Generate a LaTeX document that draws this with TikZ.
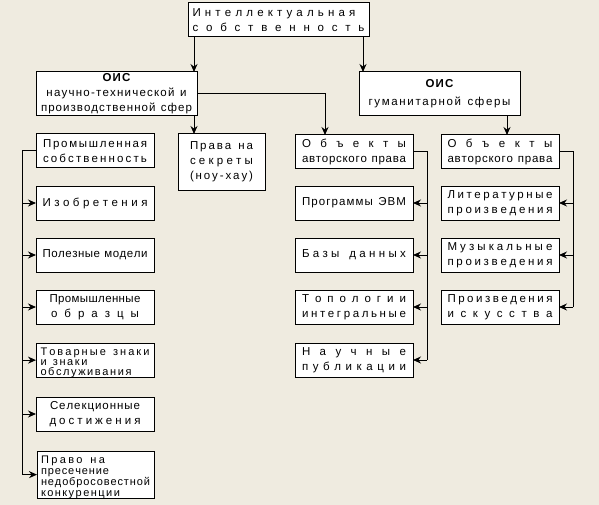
\documentclass[tikz,border=0pt]{standalone}
\usepackage{fontspec}
\setmainfont{Liberation Sans}
\usetikzlibrary{arrows.meta}
\definecolor{paper}{RGB}{239,235,224}
\makeatletter
\newcommand\spreadline[2]{\makebox[#1pt][s]{\@tfor\sp@letter:=#2\do{\sp@letter\hfil}\unskip}}
\makeatother
\newcommand\toppad{\rule{0pt}{12pt}}
\begin{document}
\begin{tikzpicture}[
            x=1pt, y=-1pt,
            line width=1pt,
            box/.style={draw, fill=white, anchor=north west, inner sep=0pt, outer sep=0pt,
                    align=center, font=\fontsize{11.5}{15}\selectfont},
            small/.style={box, minimum width=118, minimum height=34},
            arr/.style={-{Stealth[length=8pt,width=7pt]}}
        ]

        \fill[paper] (0,0) rectangle (599,505);
        \useasboundingbox (0,0) rectangle (599,505);

        \node[box, minimum width=181, minimum height=34, align=left] (top) at (188,3)
            {\spreadline{163}{Интеллектуальная}\\\spreadline{172}{собственность}};
        \node[box, minimum width=161, minimum height=44] (lois) at (36,72)
            {{\bfseries\spreadline{28}{ОИС}}\\\spreadline{140}{научно-технической~и}\\\spreadline{151}{производственной~сфер}};
        \node[box, minimum width=161, minimum height=44] (rois) at (359,72)
            {{\bfseries\spreadline{28}{ОИС}}\\[3pt]\spreadline{142}{гуманитарной~сферы}};

        \node[small] (prom) at (36,134) {\spreadline{104}{Промышленная}\\\spreadline{104}{собственность}};
        \node[box, minimum width=87, minimum height=56] (secr) at (178,134)
            {\spreadline{63}{Права~на}\\\spreadline{63}{секреты}\\\spreadline{63}{(ноу-хау)}};
        \node[small] (izo) at (36,186) {\spreadline{105}{Изобретения}};
        \node[small] (pol) at (36,238) {\spreadline{105}{Полезные~модели}};
        \node[small] (obr) at (36,290) {\spreadline{91}{Промышленные}\\\spreadline{88}{образцы}};
        \node[small, align=left, font=\fontsize{11}{10}\selectfont] (tov) at (36,343)
            {\toppad\spreadline{109}{Товарные~знаки}\\\spreadline{47}{и~знаки}\\\spreadline{91}{обслуживания}};
        \node[small] (sel) at (36,397) {\spreadline{90}{Селекционные}\\\spreadline{91}{достижения}};
        \node[box, minimum width=117, minimum height=45, align=left, font=\fontsize{11}{11}\selectfont] (pravo) at (37,451)
            {\toppad\spreadline{64}{Право~на}\\\spreadline{68}{пресечение}\\\spreadline{109}{недобросовестной}\\\spreadline{79}{конкуренции}};

        \node[small] (obj1) at (295,135) {\spreadline{104}{Объекты}\\\spreadline{104}{авторского~права}};
        \node[small] (evm) at (295,186) {\spreadline{104}{Программы~ЭВМ}};
        \node[small] (bazy) at (295,238) {\spreadline{104}{Базы~данных}};
        \node[small] (topo) at (295,290) {\spreadline{104}{Топологии}\\\spreadline{104}{интегральные}};
        \node[small] (nauch) at (295,343) {\spreadline{104}{Научные}\\\spreadline{104}{публикации}};

        \node[small] (obj2) at (441,135) {\spreadline{105}{Объекты}\\\spreadline{105}{авторского~права}};
        \node[small] (lit) at (441,186) {\spreadline{105}{Литературные}\\\spreadline{105}{произведения}};
        \node[small] (muz) at (441,238) {\spreadline{105}{Музыкальные}\\\spreadline{105}{произведения}};
        \node[small] (isk) at (441,290) {\spreadline{105}{Произведения}\\\spreadline{105}{искусства}};

        \coordinate (topl) at ([xshift=6pt]top.south west);
        \coordinate (topr) at ([xshift=-6pt]top.south east);
        \coordinate (loisd) at ([xshift=-3pt]lois.south east);
        \coordinate (roisd) at ([xshift=-13pt]rois.south east);
        \coordinate (objin) at ([xshift=30pt]obj1.north west);
        \coordinate (lrail) at ([xshift=-14pt]prom.west);
        \coordinate (mrail) at ([xshift=14pt]obj1.east);
        \coordinate (rrail) at ([xshift=14pt]obj2.east);

        \draw[arr] (topl) -- (topl |- lois.north);
        \draw[arr] (topr) -- (topr |- rois.north);
        \draw[arr] (lois.east) -| (objin);
        \draw[arr] (loisd) -- (loisd |- secr.north);
        \draw[arr] (roisd) -- (roisd |- obj2.north);

        \draw (prom.west) -- (lrail) -- (lrail |- pravo.west);
        \foreach \b in {izo,pol,obr,tov,sel,pravo}
            \draw[arr] (lrail |- \b.west) -- (\b.west);
        \draw (obj1.east) -- (mrail) -- (mrail |- nauch.east);
        \foreach \b in {evm,bazy,topo,nauch}
            \draw[arr] (mrail |- \b.east) -- (\b.east);
        \draw (obj2.east) -- (rrail) -- (rrail |- isk.east);
        \foreach \b in {lit,muz,isk}
            \draw[arr] (rrail |- \b.east) -- (\b.east);

    \end{tikzpicture}
\end{document}
